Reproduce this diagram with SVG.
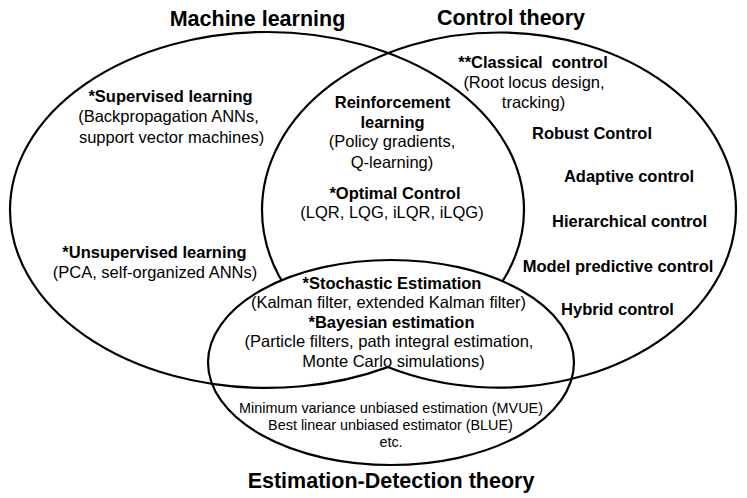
<svg xmlns="http://www.w3.org/2000/svg" width="747" height="498" viewBox="0 0 747 498">
  <style>
    text { font-family: "Liberation Sans", Arial, sans-serif; fill: #000; text-anchor: middle; }
    .title { font-size: 21.5px; font-weight: bold; }
    .b { font-size: 16.5px; font-weight: bold; }
    .r { font-size: 16.5px; }
    .s { font-size: 14.4px; }
    .set { fill: none; stroke: #000; stroke-width: 2.2; }
    .est { fill: #fff; stroke: #000; stroke-width: 2.2; }
  </style>
  <rect width="747" height="498" fill="#fff"/>

  <g id="machine-learning">
    <ellipse class="set" cx="267" cy="210" rx="257" ry="178"/>
    <text class="title" x="257.5" y="26">Machine learning</text>
  </g>

  <g id="control-theory">
    <ellipse class="set" cx="499" cy="210" rx="237" ry="177.5"/>
    <text class="title" x="511" y="25">Control theory</text>
  </g>

  <g id="estimation-detection-theory">
    <ellipse class="est" cx="391" cy="362.5" rx="183" ry="102.5"/>
    <text class="title" x="391" y="488">Estimation-Detection theory</text>
  </g>

  <g id="connectors">
    <path class="set" d="M 212 383.8 A 257 178 0 0 0 387.7 367.1"/>
    <path class="set" d="M 387.7 367.1 A 237 177.5 0 0 0 571.5 379"/>
  </g>

  <g id="supervised">
    <text class="b" x="170.5" y="102">*Supervised learning</text>
    <text class="r" x="168.5" y="122">(Backpropagation ANNs,</text>
    <text class="r" x="171.5" y="143">support vector machines)</text>
  </g>

  <g id="unsupervised">
    <text class="b" x="154.5" y="258">*Unsupervised learning</text>
    <text class="r" x="155" y="278">(PCA, self-organized ANNs)</text>
  </g>

  <g id="reinforcement">
    <text class="b" x="392.5" y="108">Reinforcement</text>
    <text class="b" x="392.5" y="128">learning</text>
    <text class="r" x="392" y="147">(Policy gradients,</text>
    <text class="r" x="392" y="168">Q-learning)</text>
  </g>

  <g id="optimal-control">
    <text class="b" x="395" y="199">*Optimal Control</text>
    <text class="r" x="392" y="218">(LQR, LQG, iLQR, iLQG)</text>
  </g>

  <g id="classical-control">
    <text class="b" x="533" y="68" style="white-space:pre">**Classical  control</text>
    <text class="r" x="534" y="88">(Root locus design,</text>
    <text class="r" x="533.5" y="108">tracking)</text>
  </g>

  <g id="control-methods">
    <text class="b" x="592" y="139">Robust Control</text>
    <text class="b" x="629" y="182">Adaptive control</text>
    <text class="b" x="629.5" y="227">Hierarchical control</text>
    <text class="b" x="618" y="272">Model predictive control</text>
    <text class="b" x="617.5" y="315">Hybrid control</text>
  </g>

  <g id="stochastic-estimation">
    <text class="b" x="392" y="289">*Stochastic Estimation</text>
    <text class="r" x="388.5" y="308">(Kalman filter, extended Kalman filter)</text>
  </g>

  <g id="bayesian-estimation">
    <text class="b" x="391.5" y="328">*Bayesian estimation</text>
    <text class="r" x="389" y="347">(Particle filters, path integral estimation,</text>
    <text class="r" x="393.5" y="367">Monte Carlo simulations)</text>
  </g>

  <g id="estimators">
    <text class="s" x="391" y="413">Minimum variance unbiased estimation (MVUE)</text>
    <text class="s" x="390.5" y="430">Best linear unbiased estimator (BLUE)</text>
    <text class="s" x="391" y="447">etc.</text>
  </g>
</svg>
